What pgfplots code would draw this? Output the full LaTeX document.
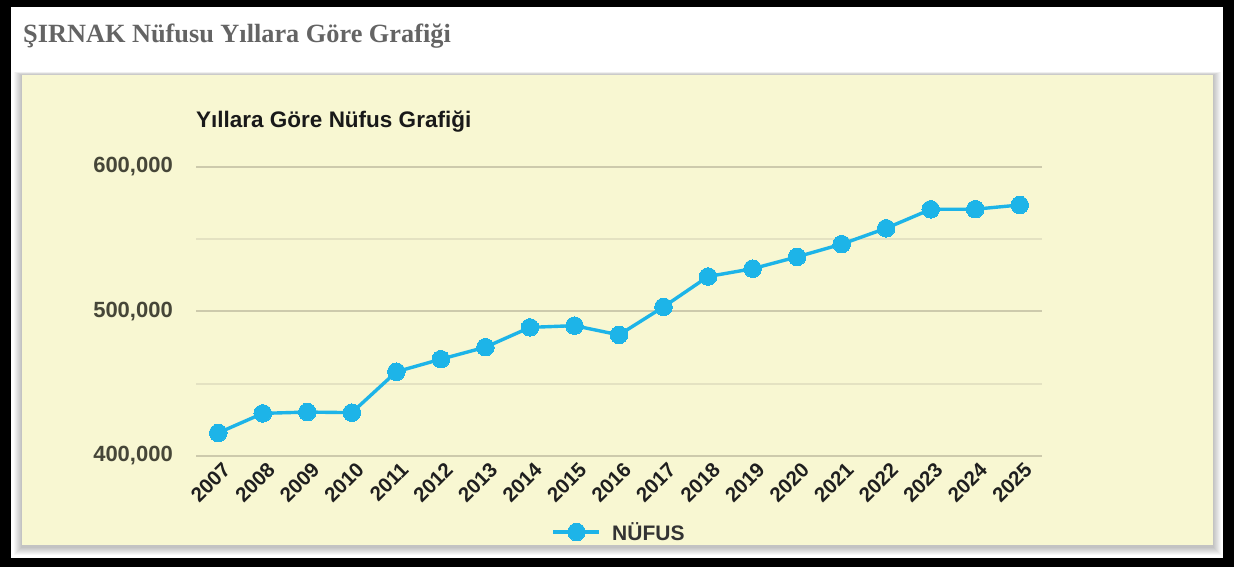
\documentclass[border=0pt]{standalone}
\usepackage{pgfplots}
\pgfplotsset{compat=1.18}
\usepackage{fontspec}
\setmainfont{Liberation Sans}
\newfontfamily\seriffont{Liberation Serif}
\definecolor{panel}{RGB}{248,247,210}
\definecolor{linec}{RGB}{29,180,232}
\definecolor{gridmaj}{RGB}{205,202,172}
\definecolor{gridmin}{RGB}{228,226,194}
\definecolor{ticky}{RGB}{70,70,56}
\definecolor{titlegray}{RGB}{100,100,100}
\begin{document}
\begin{tikzpicture}[x=1bp,y=1bp]
% frame
\fill[black] (0,0) rectangle (1234,567);
\fill[white] (11,9) rectangle (1223,560);
% shadow
\foreach \d in {1,2,...,8}{
  \fill[black,opacity=0.03] (22-\d,22-\d-2) rectangle (1213+\d,492+\d*0.4);
}
\fill[panel] (22,22) rectangle (1213,492);
% titles
\node[anchor=base west,inner sep=0pt,text=titlegray] at (23,524)
  {\seriffont\bfseries\fontsize{26.3bp}{31bp}\selectfont ŞIRNAK Nüfusu Yıllara Göre Grafiği};
\node[anchor=base west,inner sep=0pt,text=black!90] at (196,439)
  {\bfseries\fontsize{22.5bp}{26bp}\selectfont Yıllara Göre Nüfus Grafiği};
\begin{axis}[
  at={(196bp,111bp)}, anchor=south west,
  scale only axis, width=846bp, height=289bp,
  xmin=-0.5, xmax=18.5, ymin=400000, ymax=600000,
  scaled y ticks=false,
  clip=false,
  axis line style={draw=none},
  tick style={draw=none},
  xtick={0,...,18},
  xticklabels={2007,2008,2009,2010,2011,2012,2013,2014,2015,2016,2017,2018,2019,2020,2021,2022,2023,2024,2025},
  xticklabel style={rotate=45, anchor=east, inner sep=0pt, xshift=-1bp, yshift=-13bp,
    font=\bfseries\fontsize{20.5bp}{24bp}\selectfont, text=black!88},
  ytick={400000,500000,600000},
  yticklabels={{400,000},{500,000},{600,000}},
  minor ytick={450000,550000},
  yticklabel style={anchor=east, inner sep=0pt, xshift=-23bp,
    font=\bfseries\fontsize{22bp}{26bp}\selectfont, text=ticky},
  ymajorgrids, yminorgrids,
  major grid style={draw=gridmaj, line width=2bp},
  minor grid style={draw=gridmin, line width=1.6bp},
  legend style={at={(0.499,-0.263)}, anchor=center, draw=none, fill=none,
    font=\bfseries\fontsize{21bp}{24bp}\selectfont, text=black!80,
    inner sep=0pt, nodes={inner sep=0pt},
    /tikz/every odd column/.append style={column sep=11bp}},
  legend cell align=left,
  legend image code/.code={\draw[#1, mark repeat=2, mark phase=2] plot coordinates {(0bp,0bp)(23bp,0bp)(46bp,0bp)};},
]
\addplot[color=linec, line width=3.4bp, mark=*, mark size=8.8bp,
  mark options={fill=linec, draw=linec, line width=0pt}]
coordinates {
(0,416000) (1,429500) (2,430400) (3,430000) (4,458300) (5,467000)
(6,475300) (7,489000) (8,490200) (9,483800) (10,503200) (11,524200)
(12,529600) (13,537800) (14,546600) (15,557600) (16,570700) (17,570800) (18,573700)
};
\addlegendentry{NÜFUS}
\end{axis}
\end{tikzpicture}
\end{document}
